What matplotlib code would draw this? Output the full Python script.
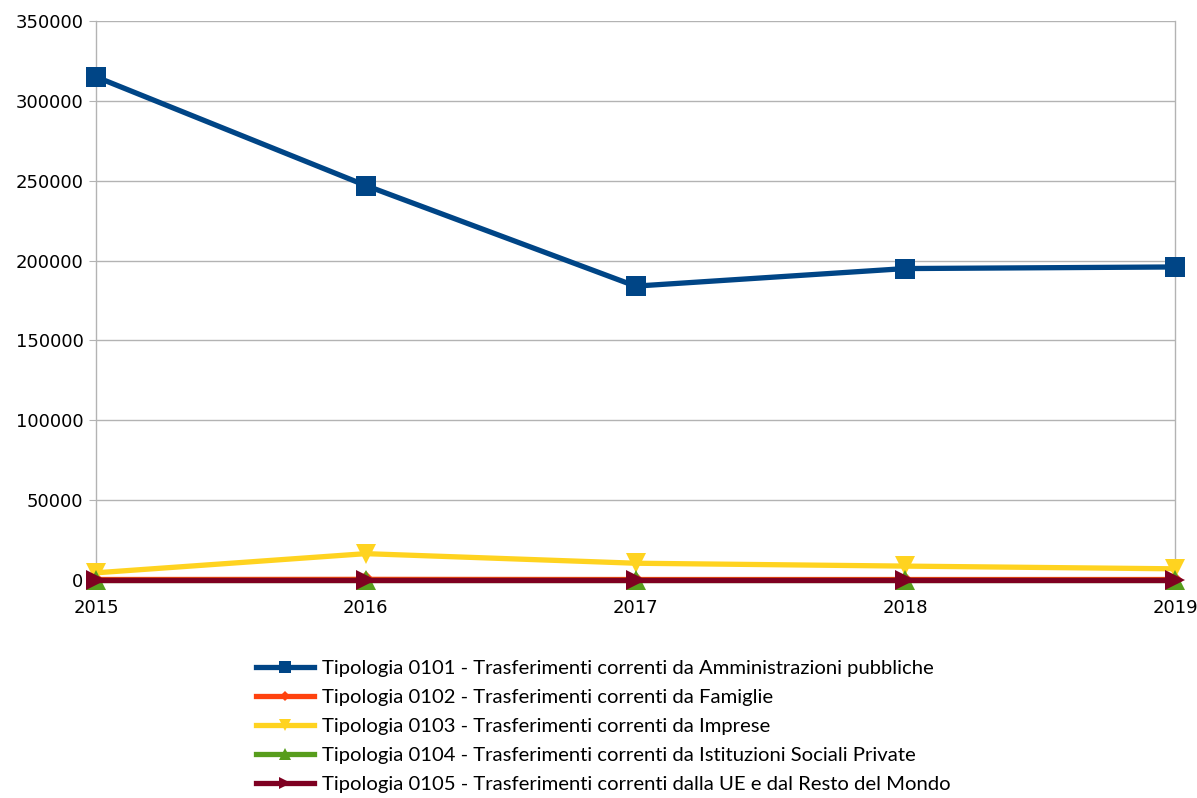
import matplotlib
matplotlib.use("Agg")
import matplotlib.pyplot as plt

years = ["2015", "2016", "2017", "2018", "2019"]
labels = [
    "Tipologia 0101 - Trasferimenti correnti da Amministrazioni pubbliche",
    "Tipologia 0102 - Trasferimenti correnti da Famiglie",
    "Tipologia 0103 - Trasferimenti correnti da Imprese",
    "Tipologia 0104 - Trasferimenti correnti da Istituzioni Sociali Private",
    "Tipologia 0105 - Trasferimenti correnti dalla UE e dal Resto del Mondo",
]
t0101 = [315000, 247000, 184000, 195000, 196000]
t0102 = [300, 400, 300, 300, 300]
t0103 = [4500, 16500, 10500, 8700, 7000]
t0104 = [0, 0, 0, 0, 0]
t0105 = [0, 0, 0, 0, 0]
series = [t0101, t0102, t0103, t0104, t0105]
yticks = [0, 50000, 100000, 150000, 200000, 250000, 300000, 350000]

colors = ["#004586", "#ff420e", "#ffd320", "#579d1c", "#7e0021"]
markers = ["s", "D", "v", "^", ">"]
msizes = [14, 8, 14, 14, 14]

fig = plt.figure(figsize=(11.97, 7.98), dpi=100)
ax = fig.add_axes([96/1197, 1-580/798, (1175-96)/1197, (580-21)/798])

x = list(range(len(years)))
for vals, c, m, ms, lab in zip(series, colors, markers, msizes, labels):
    ax.plot(x, vals, color=c, lw=3.8, marker=m, markersize=ms,
            markeredgewidth=0, label=lab, clip_on=False, zorder=3)

ax.set_xlim(0, len(years)-1)
ax.set_ylim(0, 350000)
ax.set_yticks(yticks)
ax.set_yticklabels([str(v) for v in yticks], fontsize=13, family="DejaVu Sans")
ax.set_xticks(x)
ax.set_xticklabels(years, fontsize=13, family="DejaVu Sans")
ax.grid(axis="y", color="#b3b3b3", lw=1)
ax.set_axisbelow(True)
for s in ["top", "bottom"]:
    ax.spines[s].set_visible(False)
for s in ["left", "right"]:
    ax.spines[s].set_color("#b3b3b3")
    ax.spines[s].set_linewidth(1)
ax.tick_params(axis="y", length=5, color="#b3b3b3", pad=4)
ax.tick_params(axis="x", length=0, pad=14)

leg = fig.legend(loc="upper center", bbox_to_anchor=(0.504, 1-646/798),
                 ncol=1, frameon=False, prop={"family": "Lato", "size": 14.6},
                 handlelength=2.9, handletextpad=0.4, labelspacing=0.58,
                 markerscale=0.6, borderpad=0.2)

fig.savefig("out.png", dpi=100)
